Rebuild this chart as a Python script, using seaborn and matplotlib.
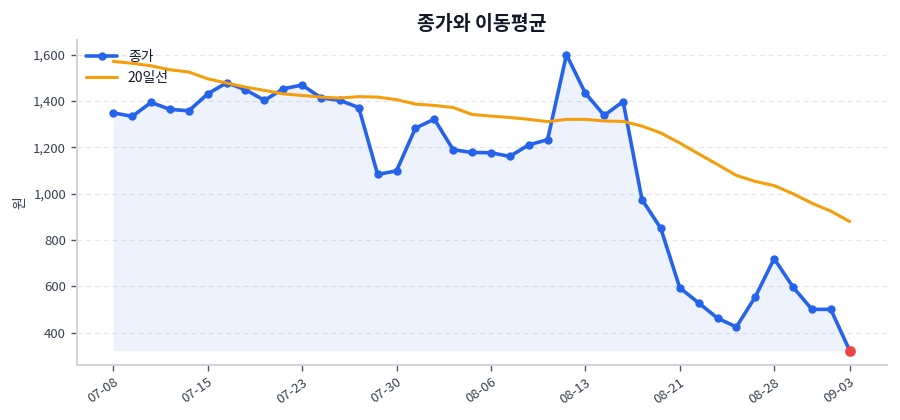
import numpy as np
import pandas as pd
import matplotlib
matplotlib.use("Agg")
import matplotlib.pyplot as plt
import seaborn as sns

# 거래일 (MM-DD)
dates = ["07-08", "07-09", "07-10", "07-11", "07-12", "07-15", "07-16", "07-17", "07-18", "07-22",
         "07-23", "07-24", "07-25", "07-26", "07-29", "07-30", "07-31", "08-01", "08-02", "08-05",
         "08-06", "08-07", "08-08", "08-09", "08-12", "08-13", "08-14", "08-16", "08-19", "08-20",
         "08-21", "08-22", "08-23", "08-26", "08-27", "08-28", "08-29", "08-30", "09-02", "09-03"]
# 종가 (원)
close = [1349, 1334, 1394, 1364, 1358, 1431, 1479, 1449, 1403, 1453,
         1469, 1414, 1403, 1372, 1083, 1099, 1283, 1322, 1190, 1178,
         1177, 1161, 1211, 1233, 1600, 1434, 1338, 1398, 975, 850,
         594, 529, 463, 425, 555, 720, 597, 501, 501, 323]
# 20일 이동평균 (원)
ma20 = [1571, 1563, 1552, 1535, 1525, 1496, 1478, 1460, 1446, 1431,
        1424, 1417, 1413, 1419, 1417, 1406, 1387, 1381, 1372, 1342,
        1335, 1329, 1321, 1311, 1321, 1321, 1314, 1312, 1292, 1262,
        1219, 1172, 1126, 1079, 1053, 1035, 1000, 959, 925, 880]
tick_every = 5

df = pd.DataFrame({"idx": np.arange(len(dates)), "date": dates, "close": close, "ma20": ma20})

sns.set_theme(style="white")
plt.rcParams["font.family"] = ["Noto Sans CJK KR", "DejaVu Sans"]

blue = "#2563eb"
orange = "#f59e0b"

fig, ax = plt.subplots(figsize=(9, 4.2), dpi=100)
fig.subplots_adjust(left=0.085, right=0.985, top=0.905, bottom=0.13)

ax.fill_between(df["idx"], df["close"], df["close"].min(), color=blue, alpha=0.08, linewidth=0)
sns.lineplot(data=df, x="idx", y="close", ax=ax, color=blue, linewidth=2.6,
             marker="o", markersize=6, markeredgewidth=0, label="종가")
sns.lineplot(data=df, x="idx", y="ma20", ax=ax, color=orange, linewidth=2.2, label="20일선")
last = df.iloc[-1]
ax.scatter([last["idx"]], [last["close"]], s=60, color="#ef4444", zorder=5, linewidths=0)

ticks = list(range(0, len(dates), tick_every))
if ticks[-1] != len(dates) - 1:
    ticks.append(len(dates) - 1)
ax.set_xticks(ticks)
ax.set_xticklabels([dates[i] for i in ticks], rotation=35, ha="right", rotation_mode="anchor")
ax.yaxis.set_major_formatter(matplotlib.ticker.FuncFormatter(lambda v, p: f"{v:,.0f}"))

ax.set_xlabel("")
ax.set_ylabel("원", color="#374151", fontsize=10)
ax.set_title("종가와 이동평균", fontsize=14, fontweight="bold", color="#111827", pad=7)

ax.grid(axis="y", linestyle=(0, (4, 3)), color="#e5e7eb", linewidth=0.9)
ax.grid(axis="x", visible=False)
for s in ["top", "right"]:
    ax.spines[s].set_visible(False)
for s in ["left", "bottom"]:
    ax.spines[s].set_color("#d1d5db")
    ax.spines[s].set_linewidth(1.5)
ax.tick_params(axis="both", colors="#4b5563", labelsize=9.5, length=4, width=1, bottom=True, left=True)
ax.tick_params(axis="both", labelcolor="#374151")

leg = ax.legend(loc="upper left", frameon=False, fontsize=10, handlelength=2.2,
                borderaxespad=0.3, labelspacing=0.5)
for t in leg.get_texts():
    t.set_color("#111827")

fig.savefig("out.png", dpi=100)
